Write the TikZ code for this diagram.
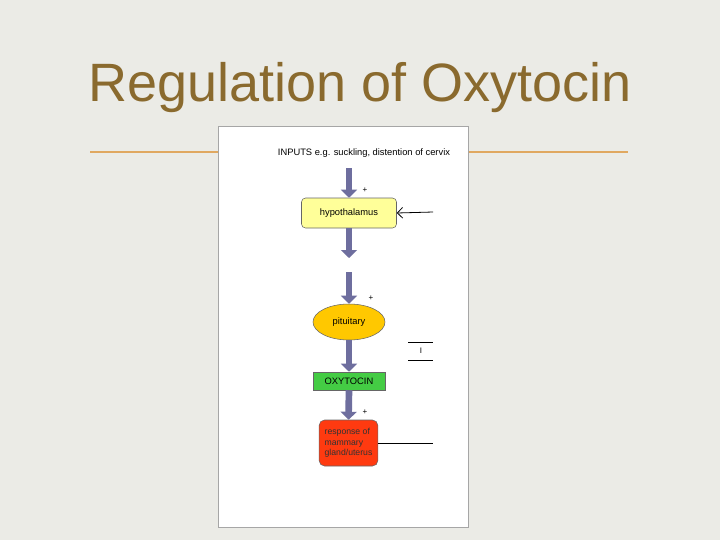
\documentclass[tikz,border=0pt]{standalone}
\usepackage{fontspec}
\setmainfont{Liberation Sans}
\usetikzlibrary{shapes.geometric,arrows.meta}
\definecolor{bg}{HTML}{EBEBE6}
\definecolor{ttl}{HTML}{8A6A2E}
\definecolor{orl}{HTML}{E0A860}
\definecolor{parr}{HTML}{6E6E9E}
\definecolor{yel}{HTML}{FFFF99}
\definecolor{pit}{HTML}{FFC800}
\definecolor{grn}{HTML}{44CC44}
\definecolor{red}{HTML}{FF3A10}
\tikzset{
 bigarrow/.style={draw=parr,line width=5pt,-{Triangle[length=6pt,width=12pt]}},
 thin/.style={draw=black,line width=0.6pt},
 lbl/.style={font=\fontsize{6}{7}\selectfont,inner sep=0pt},
}
\begin{document}
\begin{tikzpicture}[x=0.75pt,y=-0.75pt]
\fill[bg] (0,0) rectangle (720,540);
\useasboundingbox (0,0) rectangle (720,540);
\node[text=ttl,font=\fontsize{40.5}{44}\selectfont,inner sep=0pt] (title) at (360,88) {Regulation of Oxytocin};
\draw[orl,line width=0.8pt] (90,152) coordinate (l1) -- (218,152) coordinate (l2);
\draw[orl,line width=0.8pt] (468,152) coordinate (l3) -- (628,152) coordinate (l4);
\draw[fill=white,draw=gray!70] (218,126) rectangle (468,527);
\node[lbl,font=\fontsize{7}{8}\selectfont] (inp) at (364,153) {INPUTS e.g. suckling, distention of cervix};
\node[draw=black!60,fill=yel,rounded corners=3pt,minimum width=71.25pt,minimum height=22.5pt,lbl,font=\fontsize{7}{8}\selectfont] (hyp) at (349,213) {hypothalamus};
\coordinate (a2) at (349,258);
\coordinate (a3) at (349,272);
\node[ellipse,draw=black!60,fill=pit,minimum width=54pt,minimum height=27pt,lbl,font=\fontsize{7}{8}\selectfont] (pit) at (349,322) {pituitary};
\node[draw=black!60,fill=grn,minimum width=54pt,minimum height=13.5pt,lbl,font=\fontsize{7}{8}\selectfont] (oxy) at (349,381) {OXYTOCIN};
\node[draw=black!60,fill=red,rounded corners=4pt,minimum width=44pt,minimum height=34.5pt,lbl,align=left,text=black!80,font=\fontsize{6.5}{8}\selectfont] (resp) at (348.5,443) {response of\\mammary\\gland/uterus};
\coordinate (t0) at (349,168);
\draw[bigarrow] (t0) -- (hyp.north);
\draw[bigarrow] (hyp.south) -- (a2);
\draw[bigarrow] (a3) -- (pit.north);
\draw[bigarrow] (pit.south) -- (oxy.north);
\draw[bigarrow] (oxy.south) -- (resp.north);
\node[lbl] (p1) at (365,190) {+};
\node[lbl] (p2) at (371,298) {+};
\node[lbl] (p3) at (365,412) {+};
\coordinate (h1) at (433,212);
\draw[thin,-{Straight Barb[length=4pt]}] (h1) -- (hyp.east);
\coordinate (i1) at (408,342); \coordinate (i2) at (433,342);
\coordinate (i3) at (408,360); \coordinate (i4) at (433,360);
\draw[thin] (i1) -- (i2); \draw[thin] (i3) -- (i4);
\node[lbl] (bar) at (421,351) {I};
\coordinate (r1) at (433,443);
\draw[thin] (resp.east) -- (r1);
\end{tikzpicture}
\end{document}
